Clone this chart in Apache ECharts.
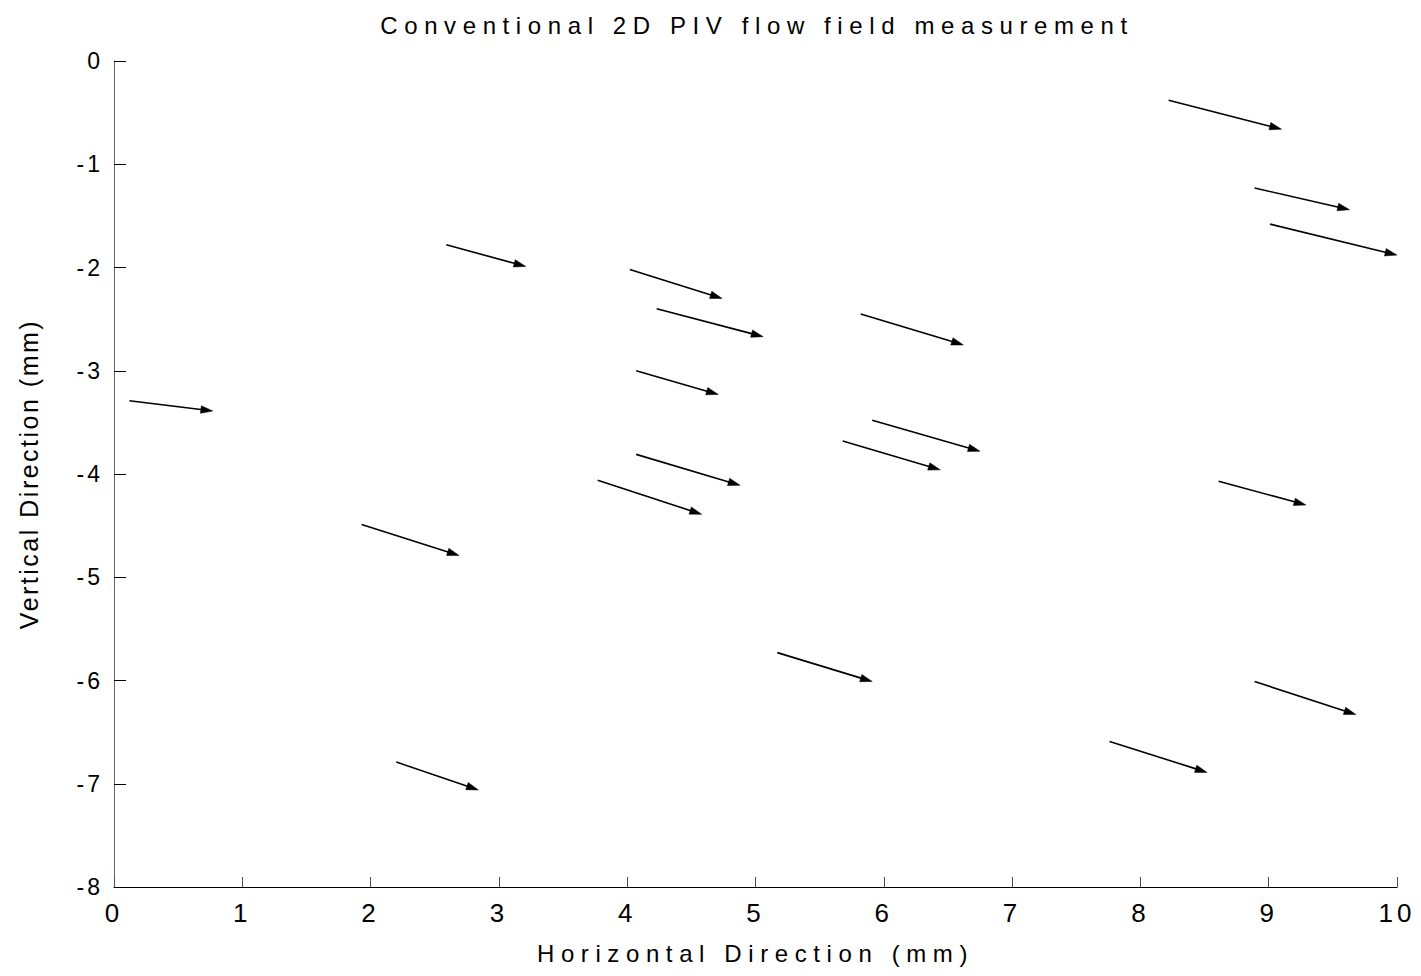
<!DOCTYPE html>
<html>
<head>
<meta charset="utf-8">
<script src="https://cdn.jsdelivr.net/npm/echarts@6/dist/echarts.min.js"></script>
<style>
  html, body { margin: 0; padding: 0; background: #fff; }
  #chart { width: 1421px; height: 976px; }
  #chart text[style*="24px"] { letter-spacing: 6.6px; }
  #chart text[style*="26px"] { letter-spacing: 4px; }
  #chart text[style*="23px"] { letter-spacing: 3px; }
  #chart text[style*="25px"] { letter-spacing: 2.5px; }
</style>
</head>
<body>
<div id="chart"></div>
<script>
// Arrow tails (mm) and displacement components (mm)
const tailX = [8.22, 8.89, 9.01, 2.59, 4.02, 4.23, 5.82, 0.12, 4.07, 5.91, 5.68, 4.07, 3.77, 8.61, 1.93, 5.17, 8.89, 7.76, 2.20];
const tailY = [-0.38, -1.23, -1.58, -1.78, -2.02, -2.40, -2.45, -3.29, -3.00, -3.48, -3.68, -3.81, -4.06, -4.07, -4.49, -5.73, -6.01, -6.59, -6.79];
const dispU = [0.88, 0.74, 0.99, 0.62, 0.72, 0.83, 0.80, 0.65, 0.64, 0.84, 0.76, 0.81, 0.81, 0.68, 0.76, 0.74, 0.79, 0.76, 0.64];
const dispV = [-0.28, -0.21, -0.30, -0.21, -0.28, -0.27, -0.30, -0.10, -0.23, -0.30, -0.28, -0.30, -0.33, -0.23, -0.30, -0.28, -0.32, -0.30, -0.27];

const titleText = 'Conventional 2D PIV flow field measurement';
const xName = 'Horizontal Direction (mm)';
const yName = 'Vertical Direction (mm)';

const arrows = tailX.map((x, i) => [x, tailY[i], dispU[i], dispV[i]]);

const chart = echarts.init(document.getElementById('chart'), null, { renderer: 'svg' });
const font = 'Liberation Sans, Arial, sans-serif';

chart.setOption({
  backgroundColor: '#ffffff',
  animation: false,
  title: {
    text: titleText,
    left: 752,
    top: 8,
    textAlign: 'center',
    textStyle: { fontFamily: font, fontSize: 24, fontWeight: 'normal', color: '#000' }
  },
  grid: { left: 114, right: 24, top: 61, bottom: 89, containLabel: false },
  xAxis: {
    type: 'value', min: 0, max: 10, interval: 1,
    name: xName, nameLocation: 'middle', nameGap: 54,
    nameTextStyle: { fontFamily: font, fontSize: 24, color: '#000' },
    axisLine: { show: true, onZero: false, lineStyle: { color: '#000', width: 1.2 } },
    axisTick: { show: true, inside: true, length: 10, lineStyle: { color: '#555', width: 1 } },
    axisLabel: { fontFamily: font, fontSize: 26, color: '#000', margin: 13 },
    splitLine: { show: false }
  },
  yAxis: {
    type: 'value', min: -8, max: 0, interval: 1,
    name: yName, nameLocation: 'middle', nameGap: 73,
    nameTextStyle: { fontFamily: font, fontSize: 25, color: '#000' },
    axisLine: { show: true, onZero: false, lineStyle: { color: '#666', width: 1 } },
    axisTick: { show: true, inside: true, length: 12, lineStyle: { color: '#000', width: 1 } },
    axisLabel: { fontFamily: font, fontSize: 23, color: '#000', margin: 11 },
    splitLine: { show: false }
  },
  series: [{
    type: 'custom',
    coordinateSystem: 'cartesian2d',
    data: arrows,
    encode: { x: 0, y: 1 },
    renderItem: function (params, api) {
      const x = api.value(0), y = api.value(1), u = api.value(2), v = api.value(3);
      const p0 = api.coord([x, y]);
      const p1 = api.coord([x + u, y + v]);
      const dx = p1[0] - p0[0], dy = p1[1] - p0[1];
      const len = Math.sqrt(dx * dx + dy * dy);
      const ux = dx / len, uy = dy / len;
      const L = 12, W = 3.8;
      const bx = p1[0] - ux * L, by = p1[1] - uy * L;
      const nx = -uy, ny = ux;
      return {
        type: 'group',
        children: [
          { type: 'line', shape: { x1: p0[0], y1: p0[1], x2: bx + ux * 2, y2: by + uy * 2 },
            style: { stroke: '#000', lineWidth: 1.6 } },
          { type: 'polygon', shape: { points: [[p1[0], p1[1]], [bx + nx * W, by + ny * W], [bx - nx * W, by - ny * W]] },
            style: { fill: '#000', stroke: '#000', lineWidth: 0.5 } }
        ]
      };
    }
  }]
});

function applySpacing() {
  document.querySelectorAll('#chart text').forEach(function (t) {
    const fs = parseFloat(getComputedStyle(t).fontSize);
    const map = { 24: '6.6px', 26: '4px', 23: '3px', 25: '2.5px' };
    if (map[Math.round(fs)]) t.style.letterSpacing = map[Math.round(fs)];
  });
}
applySpacing();
chart.on('finished', applySpacing);
</script>
</body>
</html>
